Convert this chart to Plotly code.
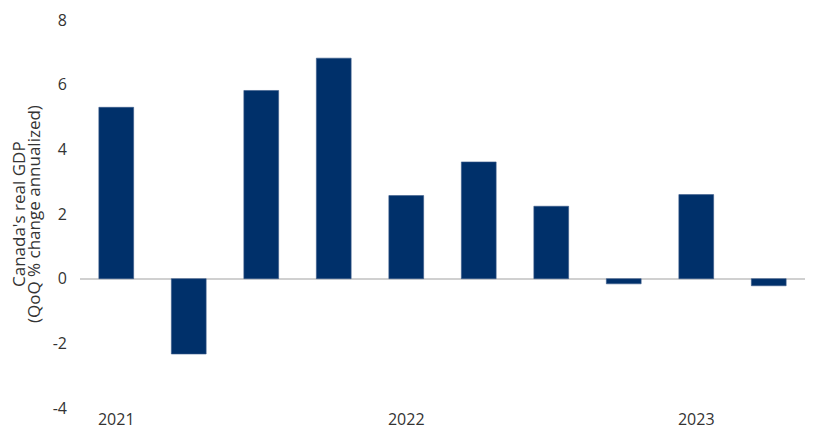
import plotly.graph_objects as go

quarters = ["2021 Q1", "2021 Q2", "2021 Q3", "2021 Q4", "2022 Q1", "2022 Q2",
            "2022 Q3", "2022 Q4", "2023 Q1", "2023 Q2"]
gdp_growth = [5.3, -2.33, 5.82, 6.82, 2.57, 3.61, 2.24, -0.16, 2.60, -0.22]
tick_positions = ["2021 Q1", "2022 Q1", "2023 Q1"]
tick_labels = ["2021", "2022", "2023"]
y_ticks = [-4, -2, 0, 2, 4, 6, 8]
y_tick_labels = ["-4", "-2", "0", "2", "4", "6", "8"]
y_title_lines = ["Canada's real GDP", "(QoQ % change annualized)"]

font_family = "Open Sans, Noto Sans, sans-serif"
text_color = "#333333"

fig = go.Figure(go.Bar(
    x=quarters, y=gdp_growth,
    marker=dict(color="#00306a", line=dict(color="#3a5a8a", width=0.6)),
    width=0.48,
))

fig.update_layout(
    width=820, height=444,
    margin=dict(l=72, r=23, t=12, b=44),
    paper_bgcolor="white", plot_bgcolor="white",
    font=dict(family=font_family, size=16, color=text_color),
    showlegend=False,
    bargap=0.52,
)
fig.update_xaxes(
    type="category", automargin=False,
    tickmode="array", tickvals=tick_positions, ticktext=tick_labels,
    showgrid=False, showline=False, zeroline=False, ticks="",
    tickfont=dict(size=16, color=text_color),
)
fig.update_yaxes(
    range=[-4, 8], automargin=False,
    tickmode="array", tickvals=y_ticks, ticktext=y_tick_labels,
    showgrid=False, showline=False, ticks="",
    zeroline=True, zerolinecolor="#d0d0d0", zerolinewidth=2,
    tickfont=dict(size=16, color=text_color),
    ticklabelstandoff=12,
)

# two-line rotated axis title, placed as annotations for tight line spacing
for xpos, line in zip([-0.0855, -0.0648], y_title_lines):
    fig.add_annotation(
        text=line, xref="paper", yref="paper", x=xpos, y=0.5,
        xanchor="center", yanchor="middle", textangle=-90, showarrow=False,
        font=dict(size=17, color=text_color, family=font_family),
    )

fig.write_html("out.html")
